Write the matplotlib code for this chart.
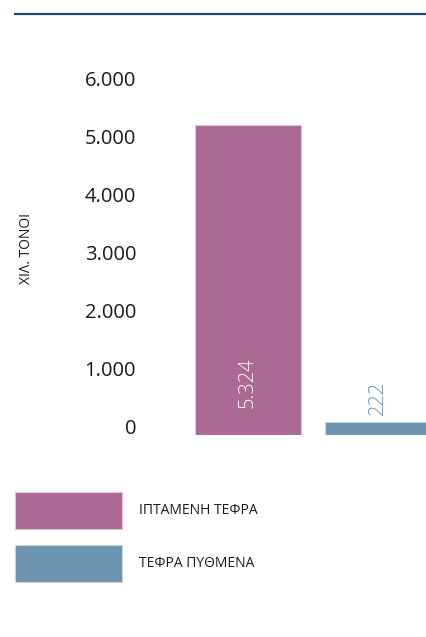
import matplotlib
matplotlib.use('Agg')
import matplotlib.pyplot as plt
from matplotlib.lines import Line2D
from matplotlib.ticker import FuncFormatter
from matplotlib.transforms import ScaledTranslation

plt.rcParams['font.family'] = ['Open Sans', 'DejaVu Sans']

categories = ['ΙΠΤΑΜΕΝΗ ΤΕΦΡΑ', 'ΤΕΦΡΑ ΠΥΘΜΕΝΑ']
values = [5324, 222]  # thousand tonnes
colors = ['#ab6994', '#6e96b2']
edge_colors = ['#e2c3d8', '#c4d5e2']
y_ticks = [0, 1000, 2000, 3000, 4000, 5000, 6000]
y_label = 'ΧΙΛ. ΤΟΝΟΙ'

W, H = 426, 637
fig = plt.figure(figsize=(W / 100, H / 100), dpi=100)
ax = fig.add_axes([150 / W, 1 - 435 / H, 1 - 150 / W, (435 - 86) / H])

x = list(range(len(values)))
bars = ax.bar(x, values, width=0.815, color=colors, edgecolor=edge_colors,
              linewidth=0.8, label=categories)
ax.set_xlim(-0.754, 1.369)
ax.set_ylim(0, 6000)

# greek-style thousands separator
fmt = lambda v: f'{v:,.0f}'.replace(',', '.')
ax.set_yticks(y_ticks)
ax.yaxis.set_major_formatter(FuncFormatter(lambda v, p: fmt(v)))
ax.tick_params(axis='y', length=0, pad=10, labelsize=14.5, labelcolor='#1a1a1a')
ax.set_xticks([])
for s in ax.spines.values():
    s.set_visible(False)
for lab in ax.get_yticklabels():
    lab.set_transform(lab.get_transform() + ScaledTranslation(0, 8 / 100, fig.dpi_scale_trans))

# value labels, rotated, inside the bar when they fit
for xi, v, c in zip(x, values, colors):
    if v > 1600:
        ax.text(xi, 1340, fmt(v), rotation=90, ha='center', va='top',
                color='white', fontsize=14.5, fontweight='light')
    else:
        ax.text(xi, v + 120, fmt(v), rotation=90, ha='center', va='bottom',
                color=c, fontsize=14.5, fontweight='light')

fig.text(26 / W, 1 - 248 / H, y_label, rotation=90, ha='center', va='center',
         fontsize=10, color='#1a1a1a')

# rule across the top
fig.add_artist(Line2D([15 / W, 1], [1 - 14 / H] * 2, color='#1b4a6b', lw=1.6))

fs = 10
fig.legend(bars, categories, loc='upper left', bbox_to_anchor=(15 / W, 1 - 492 / H),
           frameon=False, fontsize=fs, handlelength=7.7, handleheight=3.75,
           handletextpad=1.2, labelspacing=1.1, borderpad=0, borderaxespad=0,
           labelcolor='#1a1a1a')

fig.savefig('out.png', dpi=100)
